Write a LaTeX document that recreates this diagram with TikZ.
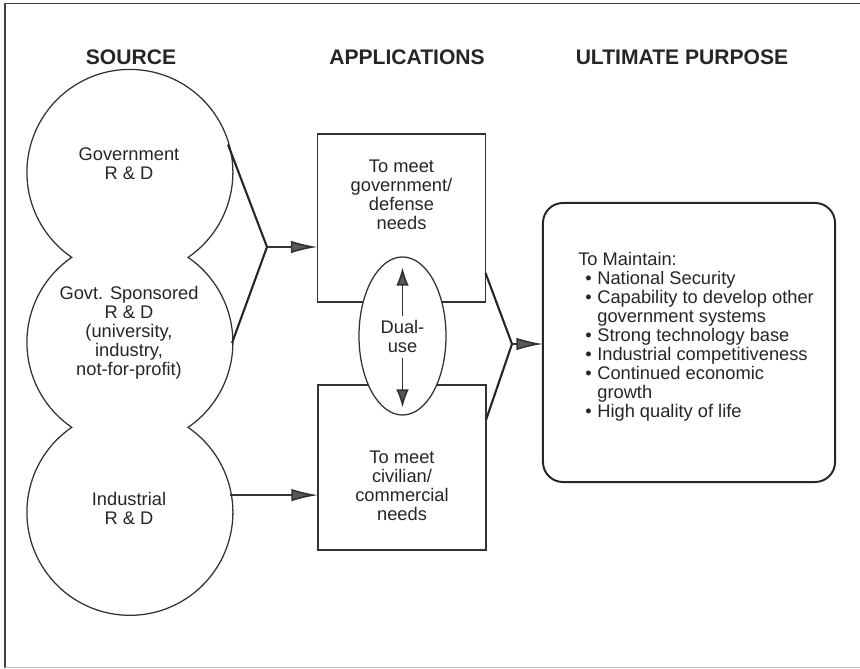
\documentclass[tikz,border=0pt]{standalone}
\usepackage{fontspec}
\setmainfont{Liberation Sans}
\usetikzlibrary{arrows.meta,positioning,shapes.geometric}

\begin{document}
\begin{tikzpicture}[x=0.025cm, y=0.025cm,
    every node/.style={font=\fontsize{13}{13.5}\selectfont, text=black!85},
    head/.style={font=\fontsize{15}{16}\selectfont\bfseries},
    srcnode/.style={circle, minimum size=5.15cm, inner sep=0pt, outer sep=0pt},
    appbox/.style={draw=black!80, line width=1.1pt, minimum width=4.2cm, inner sep=0pt, outer sep=0pt},
    arr/.style={draw=black!80, line width=1.2pt, -{Latex[length=19pt,width=9pt,fill=black!65]}},
    dualarr/.style={draw=black!80, line width=1.2pt, -{Latex[length=13pt,width=9pt,fill=black!65]}},
    brk/.style={draw=black!85, line width=1.5pt, line join=miter},
  ]
  \useasboundingbox (0,0) rectangle (860,669);
  % frame
  \draw[black!75, line width=1pt] (5,1) -- (5,665.7) -- (860,665.7);
  \draw[black!25, line width=0.8pt] (5,1.3) -- (860,1.3);

  % column heads
  \node[head] (hsrc) at (131,612) {SOURCE};
  \node[head] (happ) at (407,612) {APPLICATIONS};
  \node[head] (hpur) at (682,612) {ULTIMATE PURPOSE};

  % source circles
  \node[srcnode] (gov)   at (129,496) {};
  \node[srcnode] (spons) at (129,326) {};
  \node[srcnode] (ind)   at (129,156) {};
  \draw[black!80, line width=0.9pt] (gov.-55.6)
    arc[start angle=-55.6, end angle=235.6, radius=103]
    arc[start angle=124.4, end angle=235.6, radius=103]
    arc[start angle=124.4, end angle=415.6, radius=103]
    arc[start angle=-55.6, end angle=55.6, radius=103] -- cycle;
  \node[align=center] (govtxt)   at (129,505)   {Government\\R \& D};
  \node[align=center] (sponstxt) at (129,336)   {Govt. Sponsored\\R \& D\\(university,\\industry,\\not-for-profit)};
  \node[align=center] (indtxt)   at (129,160.5) {Industrial\\R \& D};

  % applications
  \node[appbox, minimum height=4.2cm]   (defbox) at (401.5,451) {};
  \node[appbox, minimum height=4.125cm] (civbox) at (402,201.5) {};
  \node[align=center] (deftxt) at (401.5,474.5) {To meet\\government/\\defense\\needs};
  \node[align=center] (civtxt) at (402,183.5)   {To meet\\civilian/\\commercial\\needs};
  \node[ellipse, draw=black!80, line width=0.9pt, fill=white, align=center,
        minimum width=2.175cm, minimum height=3.95cm, inner sep=0pt] (dual) at (402.5,333) {Dual-\\use};
  \draw[dualarr] ([yshift=0.5cm]dual.center) -- ([yshift=-0.275cm]dual.north);
  \draw[dualarr] ([yshift=-0.55cm]dual.center) -- ([yshift=0.2cm]dual.south);

  % ultimate purpose
  \node[draw=black!85, line width=1.4pt, rounded corners=0.5cm,
        minimum width=7.3cm, minimum height=6.975cm, outer sep=0pt] (purp) at (689,326.5) {};
  \node[anchor=west, inner sep=0pt] (aims) at (578,331.5) {%
    \begin{tabular}{@{\hspace{5pt}}l@{\hspace{4pt}}l@{}}
      \multicolumn{2}{@{}l@{}}{To Maintain:}\\
      \textbullet & National Security\\
      \textbullet & Capability to develop other\\
                  & government systems\\
      \textbullet & Strong technology base\\
      \textbullet & Industrial competitiveness\\
      \textbullet & Continued economic\\
                  & growth\\
      \textbullet & High quality of life
    \end{tabular}};

  % connectors
  \coordinate (jl) at (267,422);
  \coordinate (jr) at (512,325);
  \draw[brk] (gov.16) -- (jl) -- (spons.east);
  \draw[arr] (jl) -- (jl -| defbox.west);
  \draw[arr] (ind.10) -- (ind.10 -| civbox.west);
  \draw[brk] ([yshift=0.725cm]defbox.south east) -- (jr) -- ([yshift=-0.875cm]civbox.north east);
  \draw[arr] (jr) -- (jr -| purp.west);
\end{tikzpicture}
\end{document}
